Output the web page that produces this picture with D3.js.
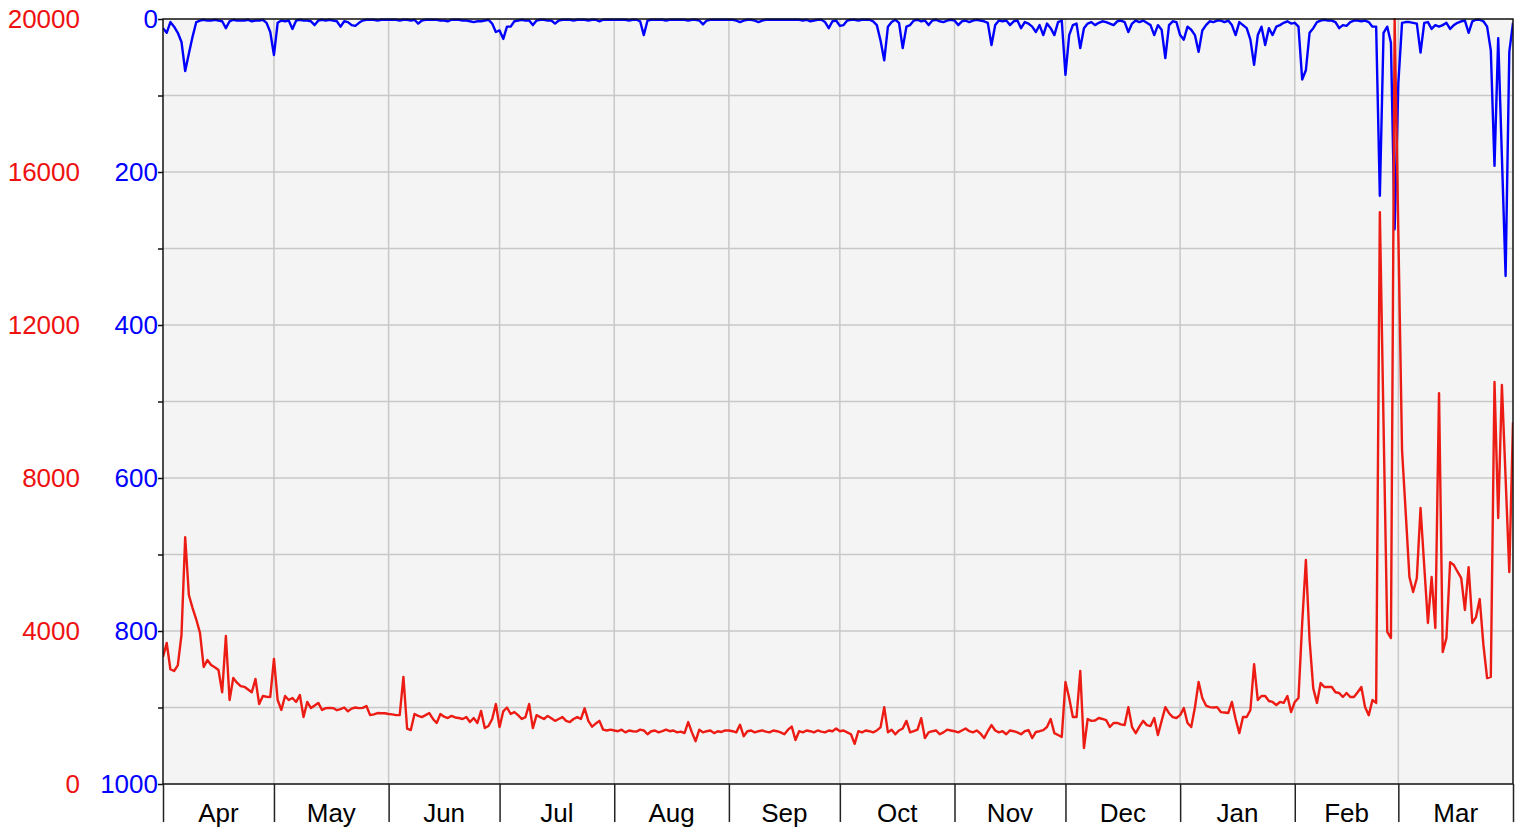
<!DOCTYPE html>
<html>
<head>
<meta charset="utf-8">
<script src="https://cdn.jsdelivr.net/npm/d3@7"></script>
<style>
body{margin:0;background:#fff;}
svg{display:block;font-family:"Liberation Sans",Arial,sans-serif;}
</style>
</head>
<body>
<script>
// month labels along the bottom
let months = ['Apr','May','Jun','Jul','Aug','Sep','Oct','Nov','Dec','Jan','Feb','Mar'];
let redTicks = [0,4000,8000,12000,16000,20000];
let blueTicks = [0,200,400,600,800,1000];

// red series (left axis), one value per day
let redApr = [3320,3686,3000,2954,3100,3900,6450,4940,4600,4300,3950,3060,3240,3110,3050,2980,2400,3870,2195,2770,2650,2560,2540,2470,2400,2745,2090,2300,2280,2275];
let redMay = [3270,2195,1935,2300,2195,2250,2145,2325,1750,2145,1985,2050,2120,1935,1985,1990,1985,1930,1960,2000,1900,1970,2000,1985,1990,2040,1800,1820,1855,1850,1850];
let redJun = [1830,1820,1800,1800,2800,1450,1410,1830,1780,1750,1800,1855,1700,1595,1830,1760,1725,1780,1740,1725,1700,1750,1620,1725,1595,1910,1465,1515,1700,2090];
let redJul = [1490,1900,2000,1830,1880,1800,1700,1750,2090,1460,1800,1750,1700,1780,1720,1650,1700,1750,1650,1620,1700,1750,1700,1980,1650,1500,1580,1650,1420,1400,1420];
let redAug = [1400,1380,1420,1350,1400,1380,1370,1420,1400,1300,1380,1400,1350,1380,1420,1380,1400,1350,1370,1330,1620,1350,1120,1420,1350,1380,1400,1330,1380,1360,1400];
let redSep = [1400,1380,1350,1550,1250,1380,1400,1350,1380,1400,1370,1350,1400,1380,1350,1300,1420,1500,1150,1380,1350,1400,1380,1350,1400,1370,1350,1400,1380,1450];
let redOct = [1380,1400,1350,1300,1050,1380,1350,1400,1380,1350,1400,1480,2010,1350,1420,1300,1400,1450,1650,1350,1380,1420,1720,1200,1350,1380,1400,1300,1350,1420,1400];
let redNov = [1380,1350,1400,1450,1380,1350,1400,1320,1200,1380,1540,1400,1350,1380,1300,1400,1380,1350,1300,1380,1410,1200,1360,1380,1410,1490,1700,1330,1280,1230];
let redDec = [2666,2250,1750,1750,2955,940,1700,1650,1660,1725,1700,1670,1490,1595,1595,1560,1540,2010,1490,1330,1500,1650,1540,1515,1725,1280,1650,2010,1850,1750,1725];
let redJan = [1800,1985,1595,1490,2000,2666,2250,2050,2010,2000,2010,1880,1870,1855,2145,1700,1330,1750,1750,1935,3135,2195,2300,2300,2170,2145,2065,2145,2120,2300,1880];
let redFeb = [2145,2250,4200,5855,3765,2500,2120,2640,2535,2540,2535,2400,2380,2275,2380,2275,2275,2400,2535,2010,1800,2195,2120,14950,9400,3975,3815,20000];
let redMar = [14400,8730,7080,5410,5020,5385,7215,5700,4210,5410,4080,10220,3450,3815,5800,5725,5550,5385,4550,5670,4210,4365,4835,3635,2770,2800,10510,6955,10430,8000,5540,9460];

// blue series (inverted scale, 0 at the top), one value per day
let blueApr = [12,18,4,10,18,30,68,45,23,4,2,1,2,2,1,2,3,12,3,1,2,2,2,1,3,2,2,1,5,17];
let blueMay = [47,5,2,3,2,13,2,1,2,2,3,8,2,1,2,1,2,3,10,3,4,8,9,5,2,1,1,1,2,1,1];
let blueJun = [1,1,1,2,1,1,2,1,6,2,1,1,1,1,2,2,3,1,1,1,2,2,3,4,3,3,2,1,6,17];
let blueJul = [15,26,10,10,3,2,1,2,2,8,2,1,1,2,2,6,2,1,1,1,2,1,1,1,2,1,1,3,1,1,1];
let blueAug = [1,1,1,1,2,1,1,3,21,2,1,1,1,1,2,1,1,1,1,1,2,1,1,2,7,2,1,1,1,1,1];
let blueSep = [1,1,2,4,2,1,1,2,4,2,1,1,1,1,1,1,1,1,1,1,2,1,3,2,1,1,4,12,3,2];
let blueOct = [9,8,2,1,1,2,1,1,1,3,8,28,54,10,4,1,5,38,10,8,2,1,3,2,8,2,1,3,4,2,1];
let blueNov = [2,8,3,2,4,2,1,2,3,5,34,8,2,3,2,8,3,2,12,4,6,10,17,8,21,6,12,21,4,2];
let blueDec = [73,21,8,6,38,12,6,4,8,5,3,4,6,8,3,2,4,17,6,2,4,2,5,8,21,8,14,51,8,3,4];
let blueJan = [21,27,10,14,21,43,15,8,3,4,2,2,4,2,8,21,4,8,12,27,60,21,10,34,12,21,10,8,5,3,6];
let blueFeb = [5,10,79,67,18,12,4,2,1,2,2,4,12,8,9,4,2,2,3,2,4,10,10,231,18,10,31,275];
let blueMar = [84,5,4,4,5,6,44,5,4,13,8,10,8,5,13,8,5,3,2,18,3,1,1,3,10,41,192,25,180,336,43,5];

let red = [].concat(redApr,redMay,redJun,redJul,redAug,redSep,redOct,redNov,redDec,redJan,redFeb,redMar);
let blue = [].concat(blueApr,blueMay,blueJun,blueJul,blueAug,blueSep,blueOct,blueNov,blueDec,blueJan,blueFeb,blueMar);

let w = 1519, h = 830;
let padLeft = 163, padRight = 1513, padTop = 19, padBottom = 784;
let startDate = new Date(2022,3,1), endDate = new Date(2023,3,1);
let fontSize = '26px';

let svg = d3.select('body')
  .append('svg')
  .attr('width',w)
  .attr('height',h);

let x = d3.scaleTime()
  .domain([startDate,endDate])
  .range([padLeft,padRight]);

let yRed = d3.scaleLinear()
  .domain([0,20000])
  .range([padBottom,padTop]);

let yBlue = d3.scaleLinear()
  .domain([0,1000])
  .range([padTop,padBottom]);

let day = i=>d3.timeDay.offset(startDate,i);

// plot background
svg.append('rect')
  .attr('x',padLeft)
  .attr('y',padTop)
  .attr('width',padRight-padLeft)
  .attr('height',padBottom-padTop)
  .attr('fill','#f4f4f4');

// grid
svg.append('g')
  .selectAll('line')
  .data(d3.range(2000,20000,2000))
  .enter()
  .append('line')
  .attr('x1',padLeft)
  .attr('x2',padRight)
  .attr('y1',d=>yRed(d))
  .attr('y2',d=>yRed(d))
  .attr('stroke','#c8c8c8')
  .attr('stroke-width',1.5);

let monthStarts = d3.timeMonth.range(startDate,endDate);

svg.append('g')
  .selectAll('line')
  .data(monthStarts.slice(1))
  .enter()
  .append('line')
  .attr('x1',d=>x(d))
  .attr('x2',d=>x(d))
  .attr('y1',padTop)
  .attr('y2',padBottom)
  .attr('stroke','#c8c8c8')
  .attr('stroke-width',1.5);

// lines
svg.append('clipPath')
  .attr('id','plotclip')
  .append('rect')
  .attr('x',padLeft)
  .attr('y',padTop-1)
  .attr('width',padRight-padLeft)
  .attr('height',padBottom-padTop+1);

svg.append('path')
  .datum(blue)
  .attr('clip-path','url(#plotclip)')
  .attr('fill','none')
  .attr('stroke','#0000ff')
  .attr('stroke-width',2.4)
  .attr('stroke-linejoin','round')
  .attr('d',d3.line().x((d,i)=>x(day(i))).y(d=>yBlue(d)));

svg.append('path')
  .datum(red)
  .attr('clip-path','url(#plotclip)')
  .attr('fill','none')
  .attr('stroke','#ec1c14')
  .attr('stroke-width',2.4)
  .attr('stroke-linejoin','round')
  .attr('d',d3.line().x((d,i)=>x(day(i))).y(d=>yRed(d)));

// frame
svg.append('rect')
  .attr('x',padLeft)
  .attr('y',padTop)
  .attr('width',padRight-padLeft)
  .attr('height',padBottom-padTop)
  .attr('fill','none')
  .attr('stroke','#111')
  .attr('stroke-width',1.5);

// left ticks + red labels
let redAxis = svg.append('g')
  .attr('transform',`translate(${padLeft},0)`)
  .call(d3.axisLeft(yRed)
    .tickValues(d3.range(0,20001,2000))
    .tickSize(5)
    .tickPadding(78)
    .tickFormat(d=>redTicks.includes(d) ? String(d) : ''));
redAxis.select('.domain').remove();
redAxis.selectAll('line').attr('stroke','#111').attr('stroke-width',1.5);
redAxis.selectAll('text')
  .attr('fill','#ee1111')
  .style('font-size',fontSize)
  .style('font-family','"Liberation Sans",Arial,sans-serif');

// blue labels
let blueAxis = svg.append('g')
  .attr('transform',`translate(${padLeft},0)`)
  .call(d3.axisLeft(yBlue)
    .tickValues(blueTicks)
    .tickSize(0)
    .tickPadding(5)
    .tickFormat(d=>String(d)));
blueAxis.select('.domain').remove();
blueAxis.selectAll('text')
  .attr('fill','#0000ff')
  .style('font-size',fontSize)
  .style('font-family','"Liberation Sans",Arial,sans-serif');

// bottom month ticks
let xAxis = svg.append('g')
  .attr('transform',`translate(0,${padBottom})`)
  .call(d3.axisBottom(x)
    .tickValues(d3.timeMonth.range(startDate,d3.timeDay.offset(endDate,1)))
    .tickSize(38)
    .tickFormat(''));
xAxis.select('.domain').remove();
xAxis.selectAll('line').attr('stroke','#222').attr('stroke-width',1.5);

svg.append('g')
  .selectAll('text')
  .data(monthStarts)
  .enter()
  .append('text')
  .attr('x',d=>(x(d)+x(d3.timeMonth.offset(d,1)))/2)
  .attr('y',822)
  .attr('text-anchor','middle')
  .attr('fill','#000')
  .style('font-size',fontSize)
  .text((d,i)=>months[i]);
</script>
</body>
</html>
